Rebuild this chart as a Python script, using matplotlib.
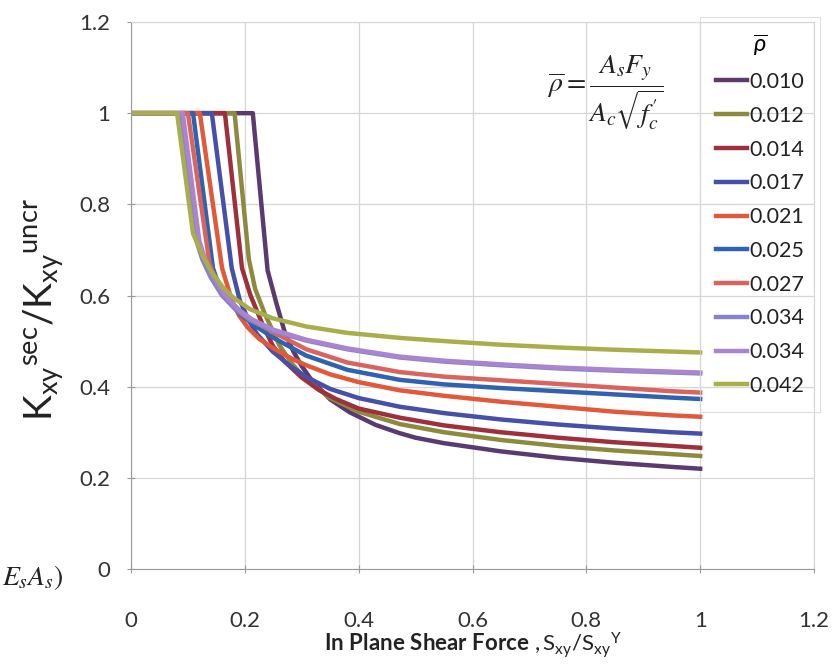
import matplotlib
matplotlib.use("Agg")
import matplotlib.pyplot as plt

# Series labels (reinforcement ratio) and colours
labels = ["0.010", "0.012", "0.014", "0.017", "0.021", "0.025", "0.027", "0.034", "0.034", "0.042"]
colors = ["#5b3a70", "#8b8a3e", "#9e2f3c", "#4650a8", "#e2583a",
          "#2f62b0", "#d9645e", "#8a82c8", "#a985cf", "#a8ae4a"]

# Values: shear force ratio vs stiffness ratio
x_010 = [0, 0.214, 0.240, 0.255, 0.270, 0.285, 0.300, 0.317, 0.35, 0.384, 0.43, 0.472, 0.50, 0.55, 0.65, 0.75, 0.85, 0.95, 1.0]
y_010 = [1, 1, 0.655, 0.585, 0.520, 0.478, 0.445, 0.415, 0.372, 0.344, 0.316, 0.298, 0.288, 0.276, 0.258, 0.244, 0.233, 0.224, 0.220]

x_012 = [0, 0.182, 0.207, 0.218, 0.235, 0.261, 0.285, 0.308, 0.35, 0.40, 0.472, 0.55, 0.65, 0.75, 0.85, 0.95, 1.0]
y_012 = [1, 1, 0.680, 0.615, 0.560, 0.490, 0.447, 0.415, 0.375, 0.345, 0.318, 0.300, 0.283, 0.270, 0.260, 0.252, 0.248]

x_014 = [0, 0.165, 0.195, 0.210, 0.230, 0.249, 0.27, 0.30, 0.33, 0.36, 0.40, 0.472, 0.55, 0.65, 0.75, 0.85, 0.95, 1.0]
y_014 = [1, 1, 0.660, 0.600, 0.540, 0.490, 0.455, 0.420, 0.393, 0.373, 0.352, 0.332, 0.315, 0.300, 0.288, 0.278, 0.270, 0.266]

x_017 = [0, 0.142, 0.177, 0.191, 0.205, 0.221, 0.249, 0.28, 0.31, 0.35, 0.40, 0.472, 0.55, 0.65, 0.75, 0.85, 0.95, 1.0]
y_017 = [1, 1, 0.660, 0.590, 0.550, 0.516, 0.477, 0.445, 0.420, 0.395, 0.375, 0.356, 0.342, 0.328, 0.317, 0.308, 0.300, 0.297]

x_021 = [0, 0.121, 0.160, 0.177, 0.190, 0.205, 0.225, 0.249, 0.28, 0.308, 0.35, 0.40, 0.472, 0.55, 0.65, 0.75, 0.85, 0.95, 1.0]
y_021 = [1, 1, 0.660, 0.590, 0.556, 0.530, 0.505, 0.485, 0.463, 0.447, 0.427, 0.410, 0.392, 0.380, 0.367, 0.356, 0.345, 0.337, 0.334]

x_025 = [0, 0.109, 0.144, 0.155, 0.165, 0.191, 0.22, 0.249, 0.308, 0.38, 0.472, 0.55, 0.65, 0.75, 0.85, 0.95, 1.0]
y_025 = [1, 1, 0.660, 0.620, 0.595, 0.560, 0.532, 0.508, 0.468, 0.437, 0.415, 0.405, 0.397, 0.390, 0.383, 0.376, 0.373]

x_027 = [0, 0.100, 0.138, 0.150, 0.165, 0.190, 0.22, 0.249, 0.308, 0.38, 0.472, 0.55, 0.65, 0.75, 0.85, 0.95, 1.0]
y_027 = [1, 1, 0.670, 0.630, 0.600, 0.568, 0.540, 0.520, 0.482, 0.453, 0.432, 0.422, 0.414, 0.406, 0.398, 0.390, 0.387]

x_034a = [0, 0.086, 0.115, 0.125, 0.140, 0.160, 0.185, 0.209, 0.25, 0.308, 0.38, 0.472, 0.55, 0.65, 0.75, 0.85, 0.95, 1.0]
y_034a = [1, 1, 0.720, 0.680, 0.640, 0.600, 0.568, 0.546, 0.522, 0.501, 0.482, 0.464, 0.455, 0.447, 0.440, 0.435, 0.431, 0.429]

x_034b = [0, 0.091, 0.120, 0.130, 0.145, 0.165, 0.190, 0.212, 0.25, 0.308, 0.38, 0.472, 0.55, 0.65, 0.75, 0.85, 0.95, 1.0]
y_034b = [1, 1, 0.720, 0.680, 0.640, 0.600, 0.568, 0.548, 0.525, 0.503, 0.484, 0.466, 0.457, 0.449, 0.442, 0.437, 0.433, 0.431]

x_042 = [0, 0.081, 0.109, 0.125, 0.140, 0.160, 0.180, 0.209, 0.249, 0.308, 0.38, 0.472, 0.55, 0.65, 0.75, 0.85, 0.95, 1.0]
y_042 = [1, 1, 0.736, 0.690, 0.655, 0.620, 0.595, 0.570, 0.550, 0.532, 0.518, 0.507, 0.500, 0.492, 0.486, 0.481, 0.477, 0.475]

series_x = [x_010, x_012, x_014, x_017, x_021, x_025, x_027, x_034a, x_034b, x_042]
series_y = [y_010, y_012, y_014, y_017, y_021, y_025, y_027, y_034a, y_034b, y_042]

x_ticks = [0, 0.2, 0.4, 0.6, 0.8, 1, 1.2]
y_ticks = [0, 0.2, 0.4, 0.6, 0.8, 1, 1.2]
x_tick_labels = ["0", "0.2", "0.4", "0.6", "0.8", "1", "1.2"]
y_tick_labels = ["0", "0.2", "0.4", "0.6", "0.8", "1", "1.2"]

plt.rcParams["font.family"] = ["Lato", "DejaVu Sans"]
plt.rcParams["mathtext.fontset"] = "custom"
plt.rcParams["mathtext.rm"] = "Lato"
plt.rcParams["mathtext.it"] = "Lato:italic"
plt.rcParams["mathtext.bf"] = "Lato:bold"

fig = plt.figure(figsize=(8.35, 6.72), dpi=100)
ax = fig.add_axes([131 / 835, 1 - 569 / 672, (814 - 131) / 835, (569 - 22) / 672])

for xs, ys, lab, col in zip(series_x, series_y, labels, colors):
    ax.plot(xs, ys, color=col, lw=3.2, label=lab, solid_joinstyle="round")

ax.set_xlim(0, 1.2)
ax.set_ylim(0, 1.2)
ax.set_xticks(x_ticks)
ax.set_xticklabels(x_tick_labels)
ax.set_yticks(y_ticks)
ax.set_yticklabels(y_tick_labels)
ax.grid(True, color="#d6d6d6", lw=0.9)
ax.set_axisbelow(True)
for side in ["left", "bottom"]:
    ax.spines[side].set_color("#9a9a9a")
for side in ["top", "right"]:
    ax.spines[side].set_color("#d6d6d6")
ax.tick_params(axis="x", labelsize=16, colors="#9a9a9a", labelcolor="#333333",
               direction="inout", length=6, pad=27)
ax.tick_params(axis="y", labelsize=16, colors="#9a9a9a", labelcolor="#333333",
               direction="inout", length=6, pad=12)

ax.set_ylabel(r"$\mathrm{K_{xy}{}^{sec}/K_{xy}{}^{uncr}}$", fontsize=28, color="#222222")
ax.yaxis.set_label_coords(-0.095, 0.475)
ax.set_xlabel(r"$\mathbf{In\ Plane\ Shear\ Force}\ ,\mathrm{S_{xy}/S_{xy}{}^{Y}}$",
              fontsize=16, color="#222222", labelpad=0)

# formula annotation
ax.text(0.833, 1.045, r"$\overline{\rho}=\dfrac{A_s F_y}{A_c\sqrt{f_c^{\prime}}}$",
        fontsize=20, math_fontfamily="stix", ha="center", va="center", color="#222222")

leg = ax.legend(loc="upper left", bbox_to_anchor=(700 / 835, 1 - 17 / 672),
                bbox_transform=fig.transFigure, fontsize=15.5, frameon=True,
                fancybox=False, edgecolor="#d6d6d6", facecolor="none",
                handlelength=1.45, handletextpad=0.08, labelspacing=0.64,
                borderaxespad=0, borderpad=0.75, title=r"$\overline{\rho}$",
                title_fontsize=17)
leg.get_frame().set_linewidth(0.8)
for t in leg.get_texts():
    t.set_color("#222222")

# text from the neighbouring figure at the left edge
fig.text(0.002, 1 - 578 / 672, r"$E_sA_s)$", fontsize=20, math_fontfamily="stix",
         ha="left", va="center", color="#222222")

fig.savefig("out.png", dpi=100)
